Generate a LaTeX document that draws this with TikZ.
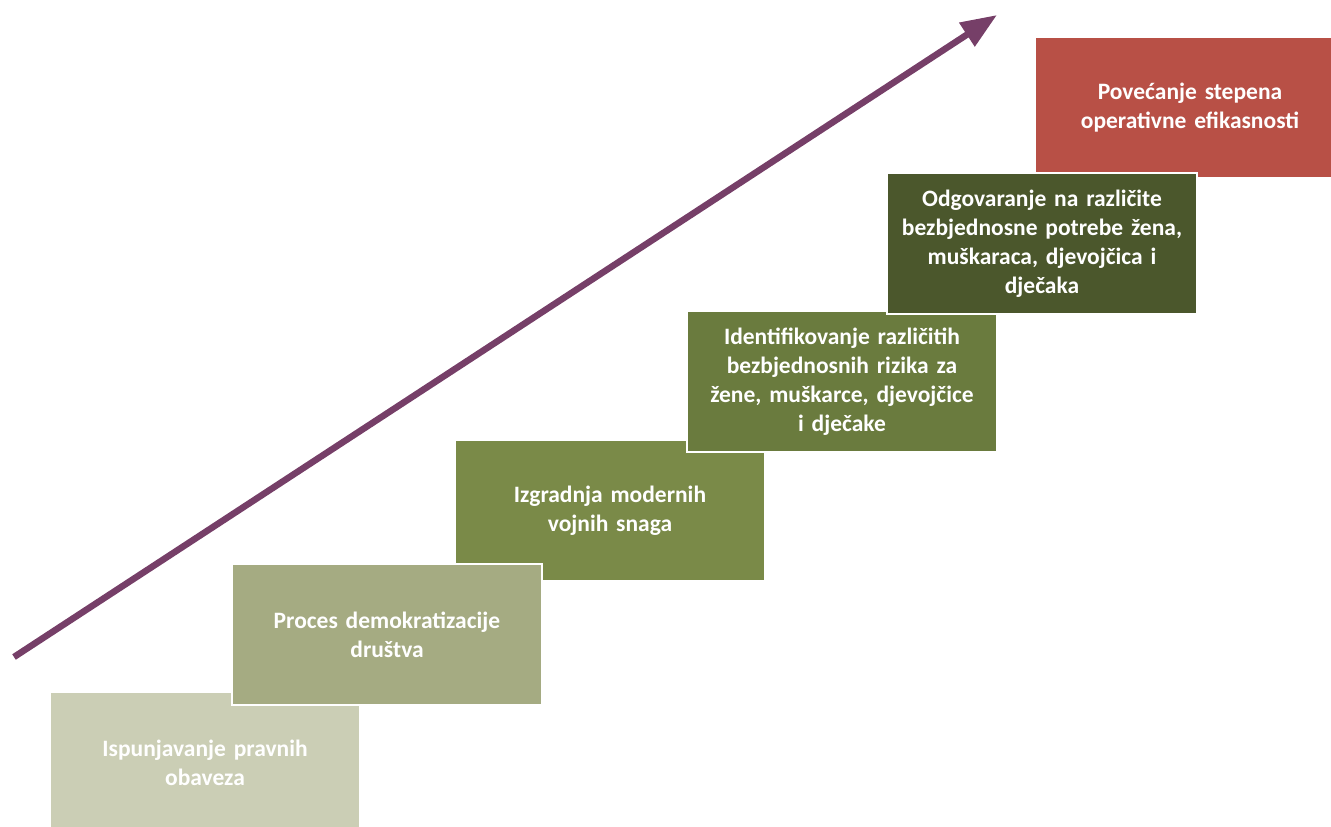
\documentclass[tikz,border=0pt]{standalone}
\usepackage{fontspec}
\setmainfont{Carlito}
\usetikzlibrary{arrows.meta}

\definecolor{stepA}{HTML}{CBCEB5}
\definecolor{stepB}{HTML}{A5AB82}
\definecolor{stepC}{HTML}{7A8A48}
\definecolor{stepD}{HTML}{6A7B3E}
\definecolor{stepE}{HTML}{4B572C}
\definecolor{stepF}{HTML}{B85046}
\definecolor{arrowcol}{HTML}{763F68}

\begin{document}
\begin{tikzpicture}[x=1pt,y=-1pt,
    stair/.style={draw=white, line width=2pt, anchor=north west, minimum width=310pt,
      minimum height=141pt, text width=300pt, align=center, text=white,
      font=\fontsize{23.5}{29}\selectfont\bfseries, inner sep=0pt}]
    \useasboundingbox (0,0) rectangle (1331,827);

    % stairs, drawn so the later ones lie on top
    \node [stair, fill=stepA] (s1) at (49,691) {Ispunjavanje pravnih\\obaveza};
    \node [stair, fill=stepC] (s3) at (454,439) {Izgradnja modernih\\vojnih snaga};
    \node [stair, fill=stepB] (s2) at (231,563) {Proces demokratizacije\\društva};
    \node [stair, fill=stepD] (s4) at (686,310) {Identifikovanje različitih\\bezbjednosnih rizika za\\žene, muškarce, djevojčice\\i dječake};
    \node [stair, fill=stepF] (s6) at (1034,36) {Povećanje stepena\\operativne efikasnosti};
    \node [stair, fill=stepE] (s5) at (886,172) {Odgovaranje na različite\\bezbjednosne potrebe žena,\\muškaraca, djevojčica i\\dječaka};

    % rising arrow
    \coordinate (tail) at (14,657);
    \coordinate (tip) at (997,15);
    \draw [arrowcol, line width=6.5pt, -{Triangle[length=36pt,width=27pt]}] (tail) -- (tip);
\end{tikzpicture}
\end{document}
